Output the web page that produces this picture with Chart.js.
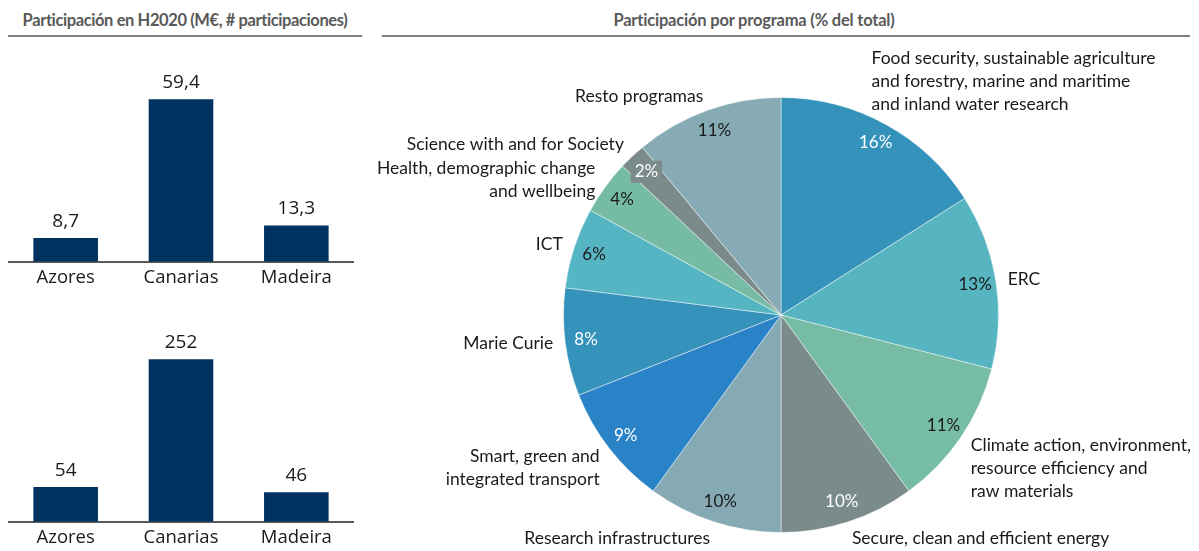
<!DOCTYPE html>
<html>
<head>
<meta charset="utf-8">
<script src="https://cdn.jsdelivr.net/npm/chart.js@4.4.1/dist/chart.umd.min.js"></script>
<style>
  body { margin: 0; background: #fff; width: 1199px; height: 551px; position: relative; overflow: hidden; }
  .title { position: absolute; top: 8px; height: 27px; border-bottom: 2px solid #808080; white-space: nowrap;
           font-family: Lato, sans-serif; font-weight: bold; letter-spacing: -0.4px;
           font-size: 16.5px; color: #595959; text-align: center; line-height: 24px; }
  .box { position: absolute; }
</style>
</head>
<body>
<div class="title" style="left:8px; width:354px;">Participación en H2020 (M€, # participaciones)</div>
<div class="title" style="left:382px; width:744px; padding-right:64px; letter-spacing:-0.2px;">Participación por programa (% del total)</div>
<div class="box" style="left:8px; top:40px; width:346px; height:246px;"><canvas id="fundingChart"></canvas></div>
<div class="box" style="left:8px; top:300px; width:346px; height:246px;"><canvas id="countChart"></canvas></div>
<div class="box" style="left:360px; top:40px; width:839px; height:511px;"><canvas id="programChart"></canvas></div>
<script>
// datos
const regions = ['Azores', 'Canarias', 'Madeira'];
const funding = [8.7, 59.4, 13.3];          // M€
const participations = [54, 252, 46];       // # participaciones

const programs = [
  ['Food security, sustainable agriculture', 'and forestry, marine and maritime', 'and inland water research'],
  'ERC',
  ['Climate action, environment,', 'resource efficiency and', 'raw materials'],
  'Secure, clean and efficient energy',
  'Research infrastructures',
  ['Smart, green and', 'integrated transport'],
  'Marie Curie',
  'ICT',
  ['Health, demographic change', 'and wellbeing'],
  'Science with and for Society',
  'Resto programas'
];
const shares = [16, 13, 11, 10, 10, 9, 8, 6, 4, 2, 11];   // % del total

// estilos
const BAR_COLOR = '#00325f';
const TEXT = '#1a1a1a';
const FONT = 'Lato, "Open Sans", sans-serif';
const BAR_FONT = '"Open Sans", sans-serif';
const sliceColors = ['#3592ba', '#57b5c1', '#77bda6', '#7a8b8c', '#85aab4', '#2a82c7',
                     '#3592ba', '#56b5c2', '#76bca4', '#7b8b8b', '#86abb5'];
const pctColors = ['#fff', TEXT, TEXT, '#fff', TEXT, '#fff', '#fff', TEXT, TEXT, '#fff', TEXT];

const barValueLabels = {
  id: 'barValueLabels',
  afterDatasetsDraw(chart) {
    const { ctx } = chart;
    const ds = chart.data.datasets[0];
    ctx.save();
    ctx.font = '19px ' + BAR_FONT;
    ctx.fillStyle = TEXT;
    ctx.textAlign = 'center';
    ctx.textBaseline = 'bottom';
    chart.getDatasetMeta(0).data.forEach((bar, i) => {
      ctx.fillText(String(ds.data[i]).replace('.', ','), bar.x, bar.y - 7);
    });
    ctx.restore();
  }
};

function makeBarChart(id, values, yMax) {
  return new Chart(document.getElementById(id), {
    type: 'bar',
    data: {
      labels: regions,
      datasets: [{ data: values, backgroundColor: BAR_COLOR, barPercentage: 0.56, categoryPercentage: 1 }]
    },
    options: {
      responsive: true,
      maintainAspectRatio: false,
      animation: false,
      plugins: { legend: { display: false }, tooltip: { enabled: false } },
      scales: {
        x: {
          grid: { display: false },
          border: { display: true, color: '#595959', width: 2 },
          ticks: { color: TEXT, font: { family: BAR_FONT, size: 18.5 }, padding: -3 }
        },
        y: { display: false, min: 0, max: yMax }
      }
    },
    plugins: [barValueLabels]
  });
}

makeBarChart('fundingChart', funding, 81);
makeBarChart('countChart', participations, 344);

// etiquetas del gráfico circular
const pieLabels = {
  id: 'pieLabels',
  afterDatasetsDraw(chart) {
    const { ctx } = chart;
    const lineH = 23;
    ctx.save();
    chart.getDatasetMeta(0).data.forEach((arc, i) => {
      const mid = (arc.startAngle + arc.endAngle) / 2;
      const r = arc.outerRadius;
      const cos = Math.cos(mid), sin = Math.sin(mid);

      // porcentaje dentro del sector
      const px = arc.x + (r - 21) * cos;
      const py = arc.y + (r - 21) * sin;
      const txt = shares[i] + '%';
      ctx.font = '17px ' + FONT;
      ctx.textAlign = 'center';
      ctx.textBaseline = 'middle';
      if (shares[i] < 3) {
        const w = ctx.measureText(txt).width + 8;
        ctx.fillStyle = sliceColors[i];
        ctx.fillRect(px - w / 2, py - 11, w, 22);
      }
      ctx.fillStyle = pctColors[i];
      ctx.fillText(txt, px, py);

      // nombre del programa fuera
      const lines = [].concat(chart.data.labels[i]);
      const ax = arc.x + (r + 12) * cos;
      const ay = arc.y + (r + 12) * sin;
      const up = -sin; // componente vertical hacia arriba
      let firstY;
      if (lines.length > 1 && up > 0.7) firstY = ay - 10 - (lines.length - 1) * lineH;
      else if (lines.length > 1 && up < -0.5) firstY = ay + 1;
      else if (up < -0.5) firstY = ay + 5;
      else firstY = ay - (lines.length - 1) * lineH / 2 - (up > 0.7 ? 3 : 0);
      ctx.font = '17.5px ' + FONT;
      ctx.fillStyle = TEXT;
      ctx.textAlign = cos >= 0 ? 'left' : 'right';
      const shiftX = (lines.length > 2 && up > 0.7) ? -20 : 0;
      lines.forEach((l, k) => ctx.fillText(l, ax + shiftX, firstY + k * lineH));
    });
    ctx.restore();
  }
};

new Chart(document.getElementById('programChart'), {
  type: 'pie',
  data: {
    labels: programs,
    datasets: [{ data: shares, backgroundColor: sliceColors, borderColor: 'rgba(255,255,255,0.45)', borderWidth: 1 }]
  },
  options: {
    responsive: true,
    maintainAspectRatio: false,
    animation: false,
    layout: { padding: { left: 203, right: 200, top: 57, bottom: 18 } },
    plugins: { legend: { display: false }, tooltip: { enabled: false } }
  },
  plugins: [pieLabels]
});
</script>
</body>
</html>
